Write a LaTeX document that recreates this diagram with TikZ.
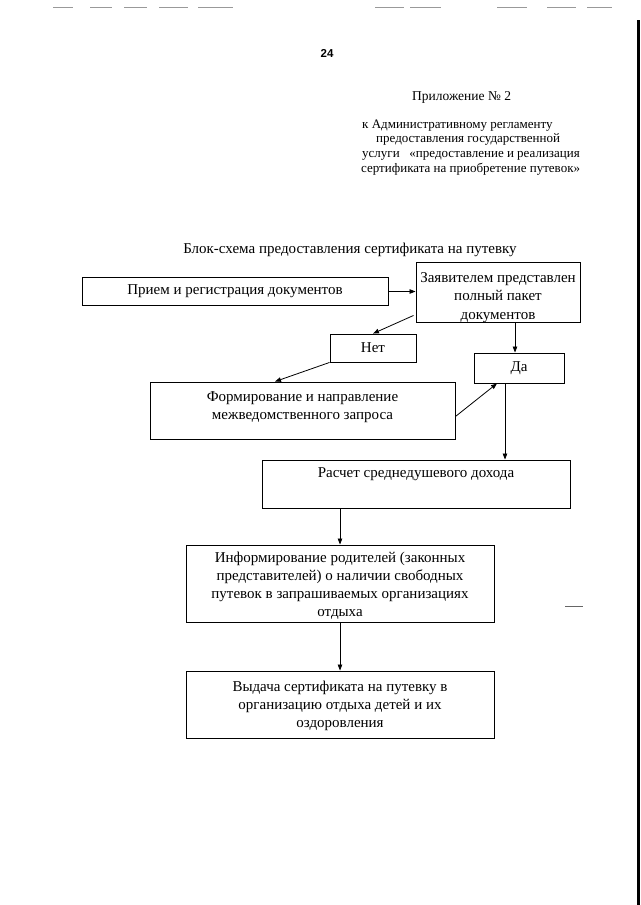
\documentclass[tikz,border=0pt]{standalone}
\usepackage{fontspec}
\setmainfont{Liberation Serif}
\newfontfamily\hdsans{Liberation Sans}
\usetikzlibrary{arrows.meta,calc}
\tikzset{
  box/.style={draw=black, line width=0.9pt, inner sep=0pt, align=center,
    font=\fontsize{15}{18}\selectfont},
  boxtext/.style={inner sep=0pt, align=center, font=\fontsize{15}{18}\selectfont},
  conn/.style={line width=0.8pt, -{Triangle[length=6pt,width=4.5pt]}},
  hdr/.style={anchor=base west, inner sep=0pt, font=\fontsize{13}{16}\selectfont},
  scanmark/.style={draw=black!40, line width=0.8pt}
}
\begin{document}
\begin{tikzpicture}[x=1pt,y=-1pt]
\useasboundingbox (0,0) rectangle (640,905);
\fill[white] (0,0) rectangle (640,905);
% scan artefacts
\foreach \a/\b in {53/73,90/112,124/147,159/188,198/233,375/404,410/441,497/527,547/576,587/612}
  \draw[scanmark] (\a,7) -- (\b,7);
\fill[black] (637,20) rectangle (640,905);
\draw[black!60, line width=0.8pt] (565,606) -- (583,606);
% header
\node[inner sep=0pt, font=\hdsans\bfseries\fontsize{11.5}{13}\selectfont] (pg) at (327,53) {24};
\node[hdr, font=\fontsize{13.5}{16}\selectfont] (h0) at (412,100) {Приложение № 2};
\node[hdr] (h1) at (362,128) {к Административному регламенту};
\node[hdr] (h2) at (376,142) {предоставления государственной};
\node[hdr] (h3) at (362,157) {услуги\ \ \ «предоставление и реализация};
\node[hdr] (h4) at (361,172) {сертификата на приобретение путевок»};
\node[inner sep=0pt, font=\fontsize{15}{18}\selectfont] (title) at (350,250) {Блок-схема предоставления сертификата на путевку};
% boxes
\node[box, minimum width=306, minimum height=28] (b1) at (235,291.5) {Прием и регистрация документов};
\node[box, minimum width=164, minimum height=60] (b2) at (498,292) {};
\node[boxtext, font=\fontsize{15}{18.5}\selectfont] (b2t) at (498,297.5) {Заявителем представлен\\полный пакет\\документов};
\node[box, minimum width=86, minimum height=28] (net) at (373,348) {Нет};
\node[box, minimum width=90, minimum height=30] (da) at (519,368) {Да};
\node[box, minimum width=305, minimum height=57] (form) at (302.5,410.5) {};
\node[boxtext, anchor=north] (formt) at (form.north) [yshift=-10pt] {Формирование и направление\\межведомственного запроса};
\node[box, minimum width=308, minimum height=48] (calc) at (416,484) {};
\node[boxtext, anchor=north] (calct) at (calc.north) [yshift=-8pt] {Расчет среднедушевого дохода};
\node[box, minimum width=308, minimum height=77] (info) at (340,583.5) {};
\node[boxtext] (infot) at (340,586) {Информирование родителей (законных\\представителей) о наличии свободных\\путевок в запрашиваемых организациях\\отдыха};
\node[box, minimum width=308, minimum height=67] (issue) at (340,704.5) {};
\node[boxtext] (issuet) at (340,706) {Выдача сертификата на путевку в\\организацию отдыха детей и их\\оздоровления};
% helper coordinates
\coordinate (xda) at (515,0);
\coordinate (xcalc) at (505,0);
\coordinate (xform) at (275,0);
\coordinate (xinfo) at (340,0);
% connectors
\draw[conn] (b1.east) -- (b1.east -| b2.west);
\draw[conn] ($(b2.south west)+(-2,-7)$) -- (net.north);
\draw[conn] (b2.south -| xda) -- (da.north -| xda);
\draw[conn] (net.south west) -- (form.north -| xform);
\draw[conn] ($(form.east)+(0,6)$) -- ($(da.south)+(-22,0)$);
\draw[conn] (da.south -| xcalc) -- (calc.north -| xcalc);
\draw[conn] (calc.south -| xinfo) -- (info.north -| xinfo);
\draw[conn] (info.south -| xinfo) -- (issue.north -| xinfo);
\end{tikzpicture}
\end{document}
